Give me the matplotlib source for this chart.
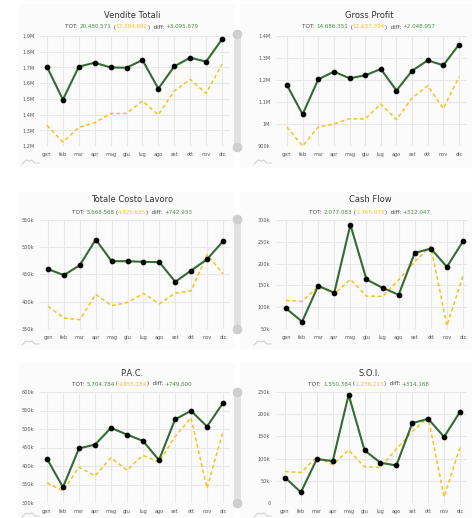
import matplotlib
matplotlib.use("Agg")
import matplotlib.pyplot as plt
from matplotlib.patches import Rectangle
from matplotlib.lines import Line2D

months = ["gen", "feb", "mar", "apr", "mag", "giu", "lug", "ago", "set", "ott", "nov", "dic"]

titles = ["Vendite Totali", "Gross Profit", "Totale Costo Lavoro", "Cash Flow", "P.A.C.", "S.O.I."]
tot_current = ["20.480.571", "14.686.351", "5.668.568", "2.077.083", "5.704.784", "1.550.384"]
tot_previous = ["17.384.892", "12.637.394", "4.925.635", "1.765.035", "4.955.184", "1.236.215"]
tot_diff = ["+3.095.679", "+2.048.957", "+742.933", "+312.047", "+749.600", "+314.168"]

vendite_cur = [1703, 1495, 1705, 1730, 1700, 1698, 1747, 1565, 1707, 1762, 1737, 1879]
vendite_prev = [1331, 1225, 1319, 1348, 1406, 1408, 1486, 1399, 1550, 1624, 1535, 1720]
gross_cur = [1176, 1044, 1203, 1238, 1208, 1221, 1250, 1152, 1242, 1289, 1267, 1361]
gross_prev = [986, 900, 986, 1000, 1024, 1023, 1091, 1020, 1118, 1174, 1070, 1214]
lavoro_cur = [459.8, 448.8, 467.1, 514.0, 474.4, 474.4, 473.2, 472.6, 436.6, 457.3, 478.0, 511.0]
lavoro_prev = [391.5, 370.1, 367.1, 413.4, 392.7, 398.8, 415.2, 396.3, 415.9, 420.1, 486.6, 451.2]
cash_cur = [97.3, 66.8, 149.1, 133.1, 289.3, 163.6, 144.5, 128.5, 224.5, 234.5, 192.5, 251.2]
cash_prev = [115.5, 113.3, 147.6, 130.8, 163.6, 125.5, 124.7, 162.8, 204.7, 239.8, 57.6, 172.0]
pac_cur = [419.6, 342.6, 447.7, 457.7, 503.0, 484.9, 467.7, 416.0, 525.7, 549.2, 506.7, 570.1]
pac_prev = [354.4, 332.6, 397.0, 373.4, 422.4, 388.8, 428.7, 410.6, 479.5, 530.2, 339.9, 493.1]
soi_cur = [57.4, 24.2, 98.9, 94.4, 243.9, 118.6, 90.6, 84.6, 179.8, 189.6, 148.8, 205.4]
soi_prev = [71.0, 68.7, 103.5, 86.1, 119.3, 81.6, 80.1, 121.6, 160.9, 193.4, 13.6, 125.4]

# values in thousands
series_cur = [vendite_cur, gross_cur, lavoro_cur, cash_cur, pac_cur, soi_cur]
series_prev = [vendite_prev, gross_prev, lavoro_prev, cash_prev, pac_prev, soi_prev]

ytick_vals = [
    [1200, 1300, 1400, 1500, 1600, 1700, 1800, 1900],
    [900, 1000, 1100, 1200, 1300, 1400],
    [350, 400, 450, 500, 550],
    [50, 100, 150, 200, 250, 300],
    [300, 350, 400, 450, 500, 550, 600],
    [0, 50, 100, 150, 200, 250],
]
ytick_labels = [
    ["1,2M", "1,3M", "1,4M", "1,5M", "1,6M", "1,7M", "1,8M", "1,9M"],
    ["900k", "1M", "1,1M", "1,2M", "1,3M", "1,4M"],
    ["350k", "400k", "450k", "500k", "550k"],
    ["50k", "100k", "150k", "200k", "250k", "300k"],
    ["300k", "350k", "400k", "450k", "500k", "550k", "600k"],
    ["0", "50k", "100k", "150k", "200k", "250k"],
]

W, H = 474, 518
fig = plt.figure(figsize=(W / 100, H / 100), dpi=100)
fig.patch.set_facecolor("white")

GREEN = "#356a35"
GREEN_TXT = "#4a8a4a"
YELLOW = "#f7c21c"
GRID = "#e8e8e8"
TXT = "#555555"

def fx(px):
    return px / W

def fy(py):
    return 1 - py / H

# panel backgrounds (left, top, right, bottom) in pixels
panels = [(18, 4, 235, 168), (240, 4, 472, 168),
          (18, 192, 235, 349), (240, 192, 472, 349),
          (18, 363, 235, 518), (240, 363, 472, 518)]
for (l, t, r, b) in panels:
    fig.patches.append(Rectangle((fx(l), fy(b)), fx(r - l), (b - t) / H,
                                 transform=fig.transFigure, facecolor="#fbfbfb",
                                 edgecolor="none", zorder=-5))

# axes layouts: (grid_left, grid_right, top, bottom, gen_x, dic_x)
layouts = [
    (40, 230, 36, 146, 47, 222),
    (276, 467, 36, 146, 287, 459),
    (40, 230, 220, 329, 48, 223),
    (276, 467, 220, 329, 286, 463),
    (40, 230, 392, 503, 47, 223),
    (276, 467, 392, 503, 285, 460),
]
title_pos = [(132, 16, 27), (369, 16, 27), (132, 200, 212), (370, 200, 212), (132, 373, 384), (369, 373, 384)]

fig.canvas.draw()
renderer = fig.canvas.get_renderer()

x = list(range(len(months)))
for i in range(6):
    gl, gr, top, bot, g0, g11 = layouts[i]
    ax = fig.add_axes([fx(gl), fy(bot), fx(gr - gl), (bot - top) / H])
    ax.set_zorder(3)
    ax.set_facecolor("none")
    scale = (g11 - g0) / 11.0
    ax.set_xlim(-(g0 - gl) / scale, 11 + (gr - g11) / scale)
    yv = ytick_vals[i]
    ax.set_ylim(yv[0], yv[-1])
    ax.set_yticks(yv)
    ax.set_yticklabels(ytick_labels[i])
    ax.set_xticks(x)
    ax.set_xticklabels(months)
    ax.tick_params(axis="both", length=0, labelsize=3.6, colors=TXT, pad=4)
    for s in ax.spines.values():
        s.set_visible(False)
    ax.grid(True, color=GRID, linewidth=0.8)
    ax.set_axisbelow(True)
    ax.plot(x, series_prev[i], color=YELLOW, linestyle=(0, (2.5, 1.8)), linewidth=1.1, zorder=2, clip_on=False)
    ax.plot(x, series_cur[i], color=GREEN, linewidth=1.5, zorder=3, clip_on=False,
            marker="o", markersize=3.1, markerfacecolor="black", markeredgecolor="black")

    cx, ty, sy = title_pos[i]
    fig.text(fx(cx), fy(ty), titles[i], ha="center", va="center", fontsize=6.0, color="#333333", zorder=5)
    parts = [("TOT: ", "#444444"), (tot_current[i], GREEN_TXT), (" (", "#444444"),
             (tot_previous[i], YELLOW), (")  diff: ", "#444444"), (tot_diff[i], GREEN_TXT)]
    texts = []
    widths = []
    for s, c in parts:
        t = fig.text(0, fy(sy), s, ha="left", va="center", fontsize=4.1, color=c, zorder=5)
        bb = t.get_window_extent(renderer=renderer)
        texts.append(t)
        widths.append(bb.width)
    total = sum(widths)
    start = cx - total / 2
    for t, w in zip(texts, widths):
        t.set_x(fx(start))
        start += w

# scrollbars
for (t, b) in [(34, 147), (219, 329), (392, 503)]:
    fig.add_artist(Line2D([fx(237), fx(237)], [fy(t), fy(b)], transform=fig.transFigure,
                          color="#e2e2e2", linewidth=5, solid_capstyle="round", zorder=1))
    for yy in (t, b):
        fig.add_artist(Line2D([fx(237)], [fy(yy)], transform=fig.transFigure, marker="o",
                              markersize=6, color="#cfcfcf", linestyle="none", zorder=2))

# small mountain icons
icon_x = [22, 254]
icon_y = [164, 345, 517]
for ix in icon_x:
    for iy in icon_y:
        xs = [ix, ix + 4, ix + 7, ix + 10, ix + 13, ix + 17]
        ys = [iy, iy - 4, iy - 3, iy - 4, iy - 1, iy - 1]
        fig.add_artist(Line2D([fx(v) for v in xs], [fy(v) for v in ys],
                              transform=fig.transFigure, color="#cccccc", linewidth=0.7))

fig.savefig("out.png", dpi=100, facecolor="white")
